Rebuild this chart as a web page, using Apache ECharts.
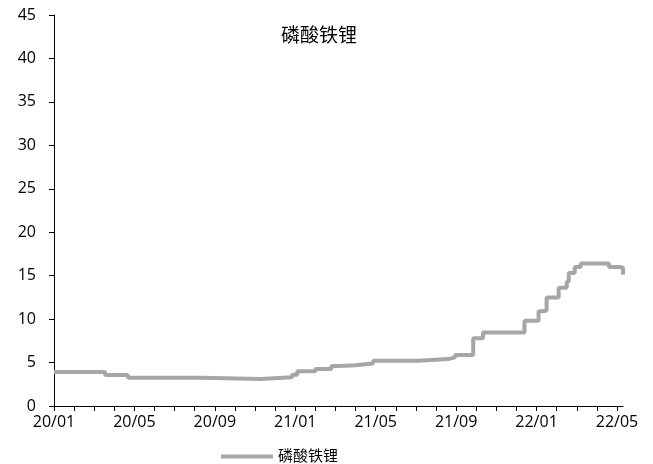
<!DOCTYPE html>
<html><head><meta charset="utf-8">
<script src="https://cdn.jsdelivr.net/npm/echarts@6/dist/echarts.min.js"></script>
<style>html,body{margin:0;padding:0;background:#fff}#c{width:653px;height:464px}</style>
</head><body><div id="c"></div>
<script>
// months since 2020/01 where the value changes (step line)
const monthsX = [0, 2.54, 3.68, 7.36, 10.25, 11.84, 12.1, 13.0, 13.8, 14.2, 14.97, 15.87, 18.1, 19.6, 19.95, 20.85, 21.34, 23.4, 24.1, 24.3, 24.5, 25.1, 25.5, 25.6, 25.9, 26.2, 27.6, 28.15, 28.3];
const priceY = [3.9, 3.57, 3.26, 3.1, 3.3, 3.6, 4.0, 4.25, 4.6, 4.7, 4.9, 5.2, 5.4, 5.6, 5.87, 7.8, 8.45, 9.8, 10.9, 11.0, 12.5, 13.6, 14.3, 15.3, 16.0, 16.4, 16.0, 15.9, 15.1];
const seriesName = '磷酸铁锂';
const yTicks = [0, 5, 10, 15, 20, 25, 30, 35, 40, 45];
const xLabelMonths = [0, 4, 8, 12, 16, 20, 24, 28];
const xTickMonths = Array.from({length: 29}, (_, i) => i);

const FONT = "'Open Sans','Noto Sans CJK SC',sans-serif";
const fmt = m => {
  const y = 20 + Math.floor(m / 12);
  const mo = (m % 12) + 1;
  return y + '/' + (mo < 10 ? '0' + mo : mo);
};
// build step-shaped series: each value holds until the next change point
const stepData = [];
monthsX.forEach((m, i) => {
  stepData.push([m, priceY[i]]);
  if (i < monthsX.length - 1) stepData.push([monthsX[i + 1], priceY[i]]);
});
const chart = echarts.init(document.getElementById('c'));
chart.setOption({
  animation: false,
  title: { text: seriesName, left: 314, top: 22, textAlign: 'center',
    textStyle: { fontFamily: FONT, fontSize: 19, fontWeight: 'normal', color: '#000' } },
  legend: { data: [seriesName], left: 216, top: 444, itemWidth: 52, itemHeight: 4, itemGap: 5,
    icon: 'rect', textStyle: { fontFamily: FONT, fontSize: 15, color: '#000' } },
  grid: { left: 54, right: 30, top: 15, bottom: 58 },
  xAxis: {
    type: 'value', min: 0, max: 28.3,
    axisLine: { lineStyle: { color: '#000', width: 1 } },
    axisTick: { show: true, length: 5, customValues: xTickMonths, lineStyle: { color: '#000' } },
    axisLabel: { customValues: xLabelMonths, formatter: v => fmt(Math.round(v)),
      fontFamily: FONT, fontSize: 16, color: '#000', margin: 8 },
    splitLine: { show: false }
  },
  yAxis: {
    type: 'value', min: 0, max: 45, interval: 5,
    axisLine: { show: true, lineStyle: { color: '#000', width: 1 } },
    axisTick: { show: true, length: 5, lineStyle: { color: '#000' } },
    axisLabel: { fontFamily: FONT, fontSize: 16, color: '#000', margin: 18 },
    splitLine: { show: false }
  },
  series: [{
    name: seriesName, type: 'line', showSymbol: false,
    lineStyle: { color: '#a6a6a6', width: 4 }, itemStyle: { color: '#a6a6a6' },
    data: stepData
  }]
});
</script></body></html>
